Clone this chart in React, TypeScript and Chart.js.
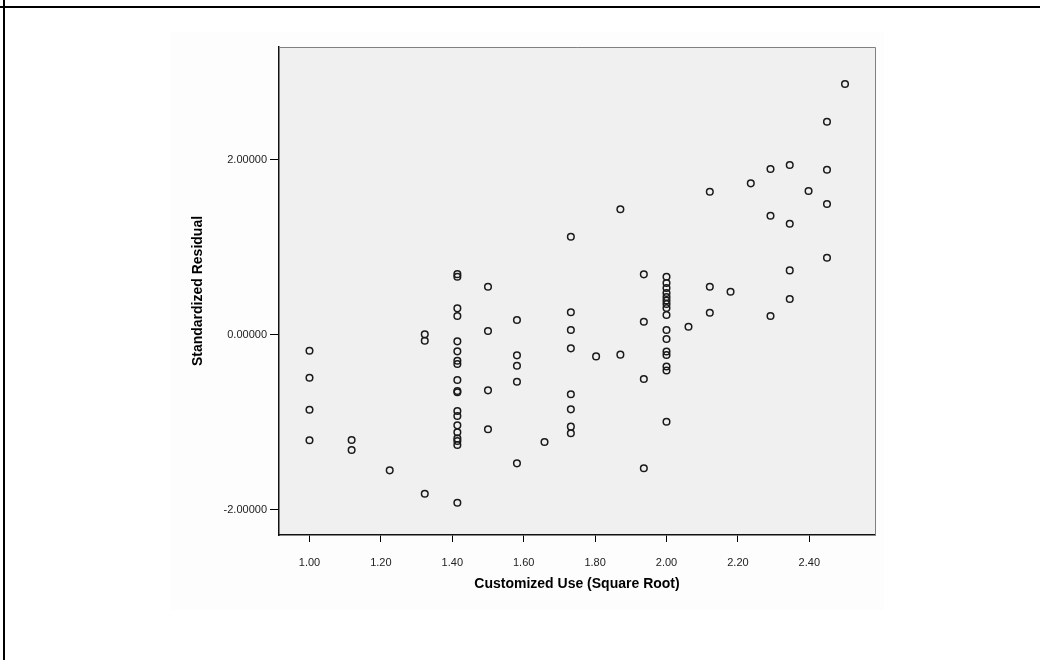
import React, { useEffect, useRef } from "react";
import { Chart, registerables } from "chart.js";

Chart.register(...registerables);

// Customized Use (square root) levels and their standardized residuals, column by column
const customizedUse: number[] = [
  1.0, 1.0, 1.0, 1.0,
  1.118, 1.118,
  1.2247,
  1.3229, 1.3229, 1.3229,
  1.4142, 1.4142, 1.4142, 1.4142, 1.4142, 1.4142, 1.4142, 1.4142, 1.4142, 1.4142,
  1.4142, 1.4142, 1.4142, 1.4142, 1.4142, 1.4142, 1.4142, 1.4142, 1.4142,
  1.5, 1.5, 1.5, 1.5,
  1.5811, 1.5811, 1.5811, 1.5811, 1.5811,
  1.6583,
  1.7321, 1.7321, 1.7321, 1.7321, 1.7321, 1.7321, 1.7321, 1.7321,
  1.8028,
  1.8708, 1.8708,
  1.9365, 1.9365, 1.9365, 1.9365,
  2.0, 2.0, 2.0, 2.0, 2.0, 2.0, 2.0, 2.0, 2.0, 2.0, 2.0, 2.0, 2.0, 2.0, 2.0, 2.0,
  2.0616,
  2.1213, 2.1213, 2.1213,
  2.1794,
  2.2361,
  2.2913, 2.2913, 2.2913,
  2.3452, 2.3452, 2.3452, 2.3452,
  2.3979,
  2.4495, 2.4495, 2.4495, 2.4495,
  2.5,
];

const standardizedResidual: number[] = [
  -0.185, -0.494, -0.859, -1.209,
  -1.206, -1.32,
  -1.552,
  0.002, -0.071, -1.819,
  0.69, 0.66, 0.299, 0.211, -0.078, -0.192, -0.299, -0.337, -0.52, -0.645,
  -0.66, -0.874, -0.931, -1.038, -1.118, -1.187, -1.217, -1.263, -1.922,
  0.546, 0.04, -0.638, -1.083,
  0.166, -0.238, -0.356, -0.539, -1.472,
  -1.229,
  1.118, 0.254, 0.051, -0.158, -0.683, -0.855, -1.053, -1.129,
  -0.25,
  1.431, -0.23,
  0.688, 0.146, -0.509, -1.529,
  0.661, 0.589, 0.531, 0.474, 0.429, 0.389, 0.349, 0.303, 0.223, 0.051, -0.051, -0.194, -0.234, -0.366, -0.411, -0.997,
  0.089,
  1.632, 0.546, 0.249,
  0.489,
  1.728,
  1.891, 1.358, 0.211,
  1.937, 1.266, 0.733, 0.406,
  1.64,
  2.432, 1.884, 1.491, 0.878,
  2.863,
];

const xTickValues: number[] = [1.0, 1.2, 1.4, 1.6, 1.8, 2.0, 2.2, 2.4];
const yTickValues: number[] = [-2, 0, 2];
const xAxisTitle = "Customized Use (Square Root)";
const yAxisTitle = "Standardized Residual";

const FONT = "'Liberation Sans', Arial, sans-serif";

export default function App() {
  const canvasRef = useRef<HTMLCanvasElement>(null);

  useEffect(() => {
    document.body.style.margin = "0";
    const canvas = canvasRef.current;
    if (!canvas) return;

    const framePlugin = {
      id: "spssFrame",
      beforeDraw(chart: any) {
        const { ctx, chartArea: a } = chart;
        ctx.save();
        ctx.fillStyle = "#ffffff";
        ctx.fillRect(0, 0, chart.width, chart.height);
        ctx.fillStyle = "#fdfdfd";
        ctx.fillRect(170, 32, 714, 578);
        ctx.fillStyle = "#f0f0f0";
        ctx.fillRect(a.left, a.top, a.right - a.left, a.bottom - a.top);
        ctx.restore();
      },
      afterDraw(chart: any) {
        const { ctx, chartArea: a } = chart;
        ctx.save();
        ctx.strokeStyle = "#808080";
        ctx.lineWidth = 1;
        ctx.beginPath();
        ctx.moveTo(a.left, a.top + 0.5);
        ctx.lineTo(a.right + 0.5, a.top + 0.5);
        ctx.lineTo(a.right + 0.5, a.bottom);
        ctx.stroke();
        ctx.fillStyle = "#000000";
        ctx.fillRect(0, 6, chart.width, 2);
        ctx.fillRect(3, 0, 2, chart.height);
        ctx.restore();
      },
    };

    const chart = new Chart(canvas, {
      type: "scatter",
      data: {
        datasets: [
          {
            data: customizedUse.map((x, i) => ({ x, y: standardizedResidual[i] })),
            pointStyle: "circle",
            pointRadius: 3.3,
            pointHoverRadius: 3.3,
            borderWidth: 1.5,
            borderColor: "#1a1a1a",
            backgroundColor: "rgba(0,0,0,0)",
          },
        ],
      },
      options: {
        responsive: false,
        animation: false,
        events: [],
        layout: { padding: { left: 0, top: 47, right: 165, bottom: 0 } },
        plugins: {
          legend: { display: false },
          tooltip: { enabled: false },
        },
        scales: {
          x: {
            type: "linear",
            position: "bottom",
            min: 0.9146,
            max: 2.584,
            afterBuildTicks: (s: any) => {
              s.ticks = xTickValues.map((v) => ({ value: v }));
            },
            afterFit: (s: any) => {
              s.height = 125;
            },
            ticks: {
              callback: (v: any) => Number(v).toFixed(2),
              font: { family: FONT, size: 11 },
              color: "#222222",
              padding: 14,
              maxRotation: 0,
              autoSkip: false,
            },
            grid: {
              drawOnChartArea: false,
              drawTicks: true,
              tickLength: 7,
              tickColor: "#000000",
              tickWidth: 1,
            },
            border: { display: true, color: "#111111", width: 1.5 },
            title: {
              display: true,
              text: xAxisTitle,
              font: { family: FONT, size: 14, weight: "bold" },
              color: "#000000",
              padding: { top: 0, bottom: 67.6 },
            },
          },
          y: {
            type: "linear",
            position: "left",
            min: -2.291,
            max: 3.286,
            afterBuildTicks: (s: any) => {
              s.ticks = yTickValues.map((v) => ({ value: v }));
            },
            afterFit: (s: any) => {
              s.width = 279;
            },
            ticks: {
              callback: (v: any) => Number(v).toFixed(5),
              font: { family: FONT, size: 11 },
              color: "#222222",
              padding: 3,
              autoSkip: false,
            },
            grid: {
              drawOnChartArea: false,
              drawTicks: true,
              tickLength: 9,
              tickColor: "#000000",
              tickWidth: 1,
            },
            border: { display: true, color: "#111111", width: 1.5 },
            title: {
              display: true,
              text: yAxisTitle,
              font: { family: FONT, size: 14, weight: "bold" },
              color: "#000000",
              padding: { top: 189.6, bottom: 0 },
            },
          },
        },
      },
      plugins: [framePlugin],
    } as any);

    return () => {
      chart.destroy();
    };
  }, []);

  return (
    <div style={{ position: "absolute", left: 0, top: 0, width: 1040, height: 660 }}>
      <canvas ref={canvasRef} width={1040} height={660} style={{ display: "block" }} />
    </div>
  );
}
